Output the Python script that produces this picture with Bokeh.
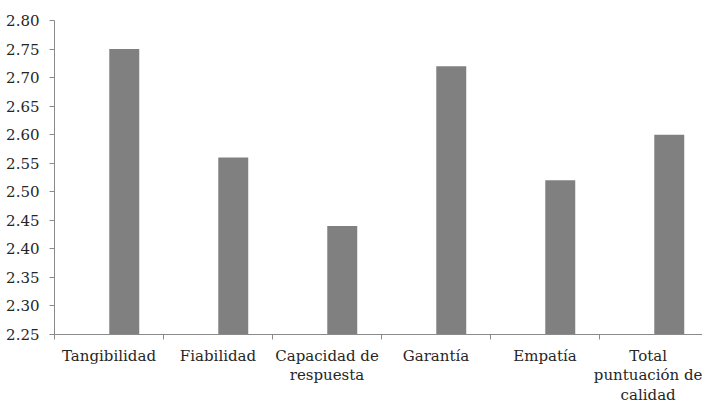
from bokeh.plotting import figure
from bokeh.models import Range1d, FixedTicker
from bokeh.embed import file_html
from bokeh.resources import INLINE

categories = ["Tangibilidad", "Fiabilidad", "Capacidad de\nrespuesta", "Garantía", "Empatía", "Total\npuntuación de\ncalidad"]
values = [2.75, 2.56, 2.44, 2.72, 2.52, 2.60]
y_ticks = [2.25, 2.30, 2.35, 2.40, 2.45, 2.50, 2.55, 2.60, 2.65, 2.70, 2.75, 2.80]
y_tick_labels = ["2.25", "2.30", "2.35", "2.40", "2.45", "2.50", "2.55", "2.60", "2.65", "2.70", "2.75", "2.80"]

FONT = "DejaVu Serif"
n = len(categories)
centers = [i + 0.5 for i in range(n)]
bar_x = [c + 0.14 for c in centers]

p = figure(frame_width=648, frame_height=314, output_backend="svg", toolbar_location=None,
           x_range=Range1d(0, 5.945), y_range=Range1d(2.25, 2.80),
           min_border_left=54, min_border_right=0, min_border_top=20, min_border_bottom=0)
p.outline_line_color = None
p.grid.grid_line_color = None
p.background_fill_color = "white"
p.border_fill_color = "white"

p.vbar(x=bar_x, top=values, bottom=2.25, width=0.275, fill_color="#808080", line_color=None)

# y axis
p.yaxis.ticker = FixedTicker(ticks=y_ticks)
p.yaxis.major_label_overrides = {t: l for t, l in zip(y_ticks, y_tick_labels)}
p.yaxis.axis_line_color = "#8a8a8a"
p.yaxis.major_tick_line_color = "#8a8a8a"
p.yaxis.major_tick_out = 5
p.yaxis.major_tick_in = 0
p.yaxis.minor_tick_line_color = None
p.yaxis.major_label_text_font = FONT
p.yaxis.major_label_text_font_size = "15px"
p.yaxis.major_label_text_color = "#262626"
p.yaxis.major_label_standoff = 10

# x axis
p.xaxis.ticker = FixedTicker(ticks=centers, minor_ticks=list(range(n + 1)))
p.xaxis.major_label_overrides = {c: l for c, l in zip(centers, categories)}
p.xaxis.axis_line_color = "#8a8a8a"
p.xaxis.major_tick_line_color = None
p.xaxis.major_tick_out = 0
p.xaxis.major_tick_in = 0
p.xaxis.minor_tick_line_color = "#8a8a8a"
p.xaxis.minor_tick_out = 5
p.xaxis.minor_tick_in = 0
p.xaxis.major_label_text_font = FONT
p.xaxis.major_label_text_font_size = "15px"
p.xaxis.major_label_text_line_height = 1.1
p.xaxis.major_label_text_color = "#262626"
p.xaxis.major_label_standoff = 7

open("out.html", "w").write(file_html(p, INLINE))
